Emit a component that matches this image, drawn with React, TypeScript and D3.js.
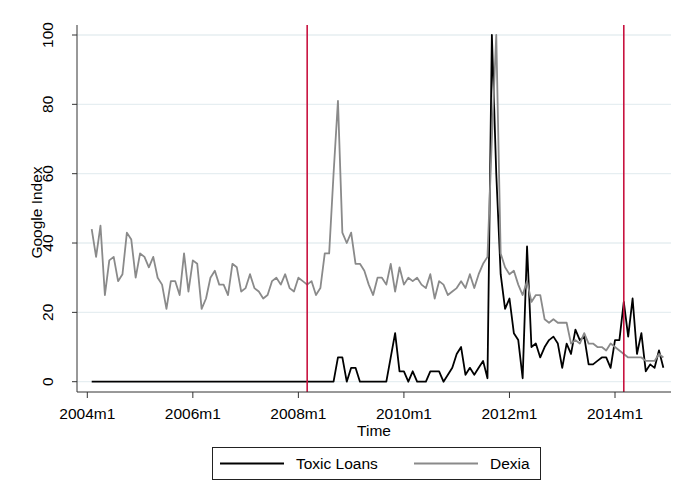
import * as d3 from 'd3';
import { useEffect, useRef } from 'react';

const width = 679;
const height = 499;

// months counted from 2004m1 = 0; the series start at 2004m2
const firstMonth = 1;

const toxicLoans = [
    0, 0, 0, 0, 0, 0, 0, 0, 0, 0, 0, 0, 0, 0, 0, 0, 0, 0, 0, 0,
    0, 0, 0, 0, 0, 0, 0, 0, 0, 0, 0, 0, 0, 0, 0, 0, 0, 0, 0, 0,
    0, 0, 0, 0, 0, 0, 0, 0, 0, 0, 0, 0, 0, 0, 0, 0, 7, 7, 0, 4,
    4, 0, 0, 0, 0, 0, 0, 0, 7, 14, 3, 3, 0, 3, 0, 0, 0, 3, 3, 3,
    0, 2, 4, 8, 10, 2, 4, 2, 4, 6, 1, 100, 60, 31, 21, 24, 14, 12, 1, 39,
    10, 11, 7, 10, 12, 13, 11, 4, 11, 8, 15, 12, 13, 5, 5, 6, 7, 7, 4, 12,
    12, 23, 13, 24, 8, 14, 3, 5, 4, 9, 4,
];

const dexia = [
    44, 36, 45, 25, 35, 36, 29, 31, 43, 41, 30, 37, 36, 33, 36, 30, 28, 21, 29, 29,
    25, 37, 26, 35, 34, 21, 24, 30, 32, 28, 28, 25, 34, 33, 26, 27, 31, 27, 26, 24,
    25, 29, 30, 28, 31, 27, 26, 30, 29, 28, 29, 25, 27, 37, 37, 60, 81, 43, 40, 43,
    34, 34, 32, 28, 25, 30, 30, 28, 34, 26, 33, 28, 30, 29, 30, 28, 27, 31, 24, 29,
    28, 25, 26, 27, 29, 27, 31, 27, 31, 34, 36, 70, 100, 37, 33, 31, 32, 28, 25, 29,
    23, 25, 25, 18, 17, 18, 17, 17, 17, 11, 12, 11, 14, 11, 11, 10, 10, 9, 11, 10,
    9, 8, 7, 7, 7, 7, 6, 6, 6, 8, 7,
];

const xTickMonths = [0, 24, 48, 72, 96, 120];
const xTickLabels = ['2004m1', '2006m1', '2008m1', '2010m1', '2012m1', '2014m1'];
const yTicks = [0, 20, 40, 60, 80, 100];
// 2008m3 and 2014m3
const eventMonths = [50, 122];

const series = [
    { name: 'Toxic Loans', values: toxicLoans, color: '#000000' },
    { name: 'Dexia', values: dexia, color: '#8a8a8a' },
];

const font = "'Liberation Sans', Arial, sans-serif";

export default function App() {
    const ref = useRef<SVGSVGElement>(null);

    useEffect(() => {
        if (!ref.current) return;
        const svg = d3.select(ref.current);
        svg.selectAll('*').remove();

        const left = 77;
        const right = 671;
        const top = 25;
        const bottom = 392;

        const x = d3.scaleLinear().domain([0, 120]).range([87.3, 615]);
        const y = d3.scaleLinear().domain([0, 100]).range([381.7, 35]);

        svg.append('rect').attr('width', width).attr('height', height).attr('fill', '#fff');

        // grid
        svg.append('g')
            .selectAll('line')
            .data(yTicks)
            .join('line')
            .attr('x1', left)
            .attr('x2', right)
            .attr('y1', (d) => y(d))
            .attr('y2', (d) => y(d))
            .attr('stroke', '#e6eef1')
            .attr('stroke-width', 1.3);

        // lines
        const line = d3
            .line<number>()
            .x((_, i) => x(firstMonth + i))
            .y((d) => y(d));

        svg.append('g')
            .selectAll('path')
            .data(series)
            .join('path')
            .attr('d', (d) => line(d.values))
            .attr('fill', 'none')
            .attr('stroke', (d) => d.color)
            .attr('stroke-width', 1.8)
            .attr('stroke-linejoin', 'round');

        // event lines
        svg.append('g')
            .selectAll('line')
            .data(eventMonths)
            .join('line')
            .attr('x1', (d) => x(d))
            .attr('x2', (d) => x(d))
            .attr('y1', top)
            .attr('y2', bottom)
            .attr('stroke', '#c8123f')
            .attr('stroke-width', 1.6);

        // axes
        const axisColor = '#333';
        svg.append('line')
            .attr('x1', left)
            .attr('x2', left)
            .attr('y1', top)
            .attr('y2', bottom)
            .attr('stroke', axisColor);
        svg.append('line')
            .attr('x1', left)
            .attr('x2', right)
            .attr('y1', bottom)
            .attr('y2', bottom)
            .attr('stroke', axisColor);

        const yAxis = svg.append('g');
        yAxis
            .selectAll('line')
            .data(yTicks)
            .join('line')
            .attr('x1', left - 5)
            .attr('x2', left)
            .attr('y1', (d) => y(d))
            .attr('y2', (d) => y(d))
            .attr('stroke', axisColor);
        yAxis
            .selectAll('text')
            .data(yTicks)
            .join('text')
            .attr('transform', (d) => `translate(${53},${y(d)}) rotate(-90)`)
            .attr('text-anchor', 'middle')
            .attr('font-family', font)
            .attr('font-size', 15.5)
            .text((d) => d);

        const xAxis = svg.append('g');
        xAxis
            .selectAll('line')
            .data(xTickMonths)
            .join('line')
            .attr('x1', (d) => x(d))
            .attr('x2', (d) => x(d))
            .attr('y1', bottom)
            .attr('y2', bottom + 6)
            .attr('stroke', axisColor);
        xAxis
            .selectAll('text')
            .data(xTickMonths)
            .join('text')
            .attr('x', (d) => x(d))
            .attr('y', 419)
            .attr('text-anchor', 'middle')
            .attr('font-family', font)
            .attr('font-size', 15.5)
            .text((_, i) => xTickLabels[i]);

        svg.append('text')
            .attr('x', (left + right) / 2)
            .attr('y', 436)
            .attr('text-anchor', 'middle')
            .attr('font-family', font)
            .attr('font-size', 15.5)
            .text('Time');

        svg.append('text')
            .attr('transform', `translate(42,${(top + bottom) / 2 + 4}) rotate(-90)`)
            .attr('text-anchor', 'middle')
            .attr('font-family', font)
            .attr('font-size', 15.5)
            .text('Google Index');

        // legend
        const legend = svg.append('g');
        legend
            .append('rect')
            .attr('x', 212.5)
            .attr('y', 447.5)
            .attr('width', 328)
            .attr('height', 32)
            .attr('fill', '#fff')
            .attr('stroke', '#222');
        const items = legend
            .selectAll('g')
            .data(series)
            .join('g')
            .attr('transform', (_, i) => `translate(${i === 0 ? 220 : 414},463.5)`);
        items
            .append('line')
            .attr('x1', 0)
            .attr('x2', 64)
            .attr('stroke', (d) => d.color)
            .attr('stroke-width', 1.8);
        items
            .append('text')
            .attr('x', 76)
            .attr('y', 5.5)
            .attr('font-family', font)
            .attr('font-size', 15.5)
            .text((d) => d.name);
    }, []);

    return (
        <svg
            ref={ref}
            width={width}
            height={height}
            style={{ position: 'absolute', left: 0, top: 0, display: 'block' }}
        />
    );
}
